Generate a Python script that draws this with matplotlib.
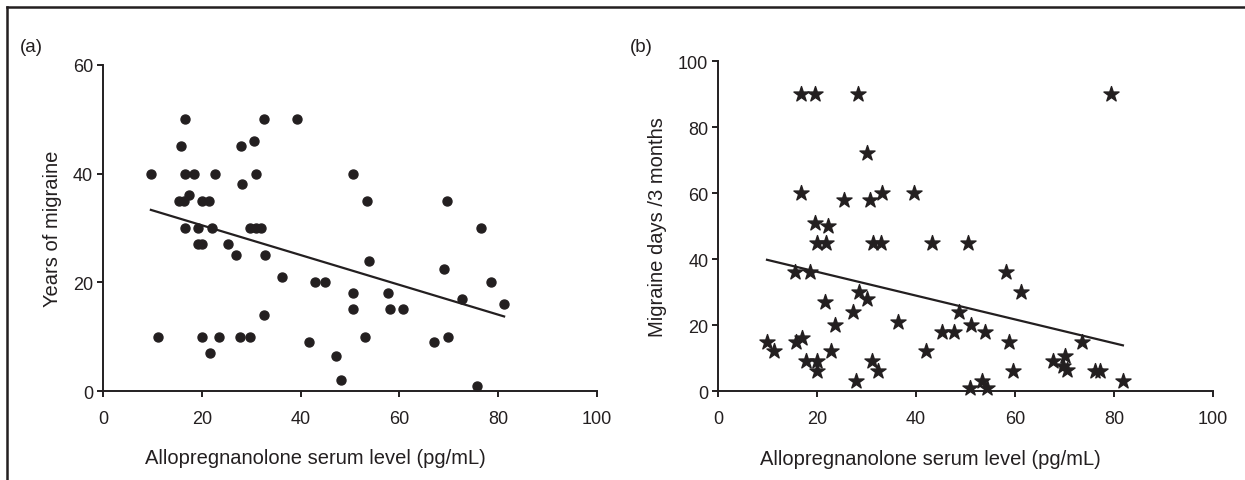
import matplotlib
matplotlib.use("Agg")
import matplotlib.pyplot as plt
from matplotlib.lines import Line2D
import numpy as np

plt.rcParams.update({
    "font.family": ["Liberation Sans", "DejaVu Sans"],
    "font.size": 12,
    "axes.linewidth": 1.4,
    "xtick.major.width": 1.4,
    "ytick.major.width": 1.4,
    "xtick.major.size": 4,
    "ytick.major.size": 4,
})

INK = "#231f20"

# panel (a): allopregnanolone vs years of migraine
allo_a = [9.7, 11.1, 16.6, 15.7, 16.6, 18.4, 22.6, 15.4, 16.4, 17.4, 20.0, 21.5,
          16.7, 19.2, 22.1, 19.2, 20.1, 25.3, 26.9, 28.0, 28.2, 30.6, 31.0, 32.6,
          29.7, 31.0, 32.0, 32.9, 32.6, 39.3, 36.2, 43.0, 44.9, 50.6, 50.7, 50.7,
          20.0, 23.5, 27.7, 29.8, 21.7, 41.8, 47.2, 48.2,
          53.5, 69.7, 76.5, 53.9, 69.1, 78.6, 57.6, 72.7, 58.2, 60.7, 81.2, 53.0,
          67.1, 69.8, 75.8]
years = [40, 10, 50, 45, 40, 40, 40, 35, 35, 36, 35, 35,
         30, 30, 30, 27, 27, 27, 25, 45, 38, 46, 40, 50,
         30, 30, 30, 25, 14, 50, 21, 20, 20, 40, 18, 15,
         10, 10, 10, 10, 7, 9, 6.5, 2,
         35, 35, 30, 24, 22.5, 20, 18, 17, 15, 15, 16, 10,
         9, 10, 1]

# panel (b): allopregnanolone vs migraine days per 3 months
allo_b = [16.7, 19.5, 28.3, 30.1, 16.7, 25.5, 30.8, 33.1, 39.5, 19.5, 22.2, 20.1,
          21.8, 31.3, 32.9, 43.3, 50.5, 15.6, 18.5, 21.6, 28.5, 30.2, 27.2, 23.7,
          36.4, 48.6, 45.2, 47.7, 9.9, 11.3, 15.8, 17.0, 17.7, 20.1, 20.0, 22.9,
          27.8, 31.2, 32.4, 42.1, 51.1, 79.3, 58.1, 61.2, 53.9, 58.7, 73.5, 67.6,
          70.2, 69.6, 70.5, 59.6, 76.2, 77.2, 81.8, 53.3, 51.0, 54.3]
days = [90, 90, 90, 72, 60, 58, 58, 60, 60, 51, 50, 45,
        45, 45, 45, 45, 45, 36, 36, 27, 30, 28, 24, 20,
        21, 24, 18, 18, 15, 12, 15, 16, 9, 9, 6, 12,
        3, 9, 6, 12, 20, 90, 36, 30, 18, 15, 15, 9,
        10.5, 7.5, 6.5, 6, 6, 6, 3, 3, 1, 1]

XLABEL = "Allopregnanolone serum level (pg/mL)"

fig = plt.figure(figsize=(12.45, 4.81), dpi=100)
ax_a = fig.add_axes([0.0827, 0.185, 0.3968, 0.678])
ax_b = fig.add_axes([0.5767, 0.185, 0.3976, 0.686])


def style(ax, ymax, ylabel):
    ax.set_xlim(0, 100)
    ax.set_ylim(0, ymax)
    ax.set_xticks(np.arange(0, 101, 20))
    ax.set_yticks(np.arange(0, ymax + 1, 20))
    for s in ("top", "right"):
        ax.spines[s].set_visible(False)
    for s in ("left", "bottom"):
        ax.spines[s].set_color(INK)
    ax.tick_params(colors=INK, labelsize=13, pad=3)
    ax.tick_params(axis="x", pad=10)
    ax.set_xlabel(XLABEL, fontsize=14.5, color=INK)
    ax.xaxis.set_label_coords(0.43, -0.175)
    ax.set_ylabel(ylabel, fontsize=14.5, color=INK, labelpad=8)


def fit_line(ax, x, y):
    x = np.asarray(x)
    k, b = np.polyfit(x, y, 1)
    xs = np.array([x.min(), x.max()])
    ax.plot(xs, k * xs + b, color=INK, lw=1.6, zorder=2)


ax_a.scatter(allo_a, years, s=42, color=INK, zorder=3, clip_on=False)
fit_line(ax_a, allo_a, years)
style(ax_a, 60, "Years of migraine")

ax_b.scatter(allo_b, days, s=130, marker="*", color=INK, zorder=3, clip_on=False)
fit_line(ax_b, allo_b, days)
style(ax_b, 100, "Migraine days /3 months")

fig.text(0.016, 0.902, "(a)", fontsize=13.5, color=INK, va="center")
fig.text(0.506, 0.902, "(b)", fontsize=13.5, color=INK, va="center")

# frame lines at top and left
fig.add_artist(Line2D([0.006, 1.0], [0.983, 0.983], color=INK, lw=1.8,
                      transform=fig.transFigure))
fig.add_artist(Line2D([0.006, 0.006], [0.0, 0.983], color=INK, lw=1.8,
                      transform=fig.transFigure))

fig.savefig("out.png", dpi=100)
